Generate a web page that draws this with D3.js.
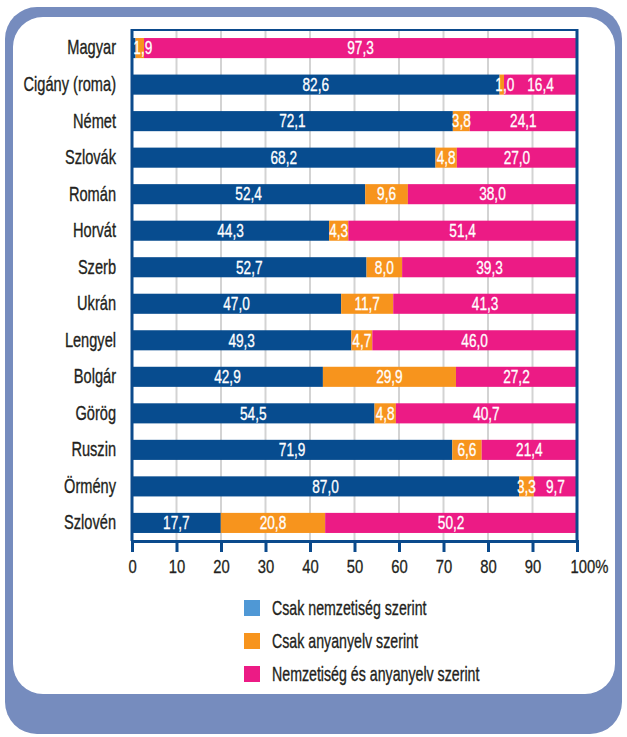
<!DOCTYPE html>
<html>
<head>
<meta charset="utf-8">
<script src="https://cdn.jsdelivr.net/npm/d3@7"></script>
<style>
  html, body { margin: 0; padding: 0; background: #fff; }
  svg { display: block; }
  text { font-family: 'Liberation Sans', Arial, sans-serif; }
</style>
</head>
<body>
<svg id="chart" width="627" height="737"></svg>
<script>
const categories = ["Magyar","Cigány (roma)","Német","Szlovák","Román","Horvát","Szerb","Ukrán","Lengyel","Bolgár","Görög","Ruszin","Örmény","Szlovén"];
const nemzetiseg = [0.8, 82.6, 72.1, 68.2, 52.4, 44.3, 52.7, 47.0, 49.3, 42.9, 54.5, 71.9, 87.0, 17.7];
const anyanyelv  = [1.9, 1.0, 3.8, 4.8, 9.6, 4.3, 8.0, 11.7, 4.7, 29.9, 4.8, 6.6, 3.3, 20.8];
const mindketto  = [97.3, 16.4, 24.1, 27.0, 38.0, 51.4, 39.3, 41.3, 46.0, 27.2, 40.7, 21.4, 9.7, 50.2];
const seriesNames = ["Csak nemzetiség szerint","Csak anyanyelv szerint","Nemzetiség és anyanyelv szerint"];
const tickValues = [0,10,20,30,40,50,60,70,80,90,100];
const tickLabels = ["0","10","20","30","40","50","60","70","80","90","100%"];

const barColors = ["#074C8F","#F7941D","#EC1B85"];
const legendColors = ["#4F98D5","#F7941D","#EC1B85"];
const frameBlue = "#0B4A8C";
const ink = "#231F20";

const svg = d3.select("#chart");

// helper: condense text horizontally around its own x anchor
function condense(sel, sx){
  sel.each(function(){
    const t = d3.select(this);
    const x0 = +t.attr("x") || 0;
    t.attr("x", x0/sx).attr("transform", `scale(${sx},1)`);
  });
}

// background frame
svg.append("rect").attr("x",5).attr("y",7).attr("width",617).attr("height",727)
  .attr("rx",32).attr("fill","#768CBE");
svg.append("rect").attr("x",13).attr("y",17).attr("width",602).attr("height",677)
  .attr("rx",30).attr("fill","#ffffff");

const x = d3.scaleLinear().domain([0,100]).range([132,577]);
const y = d3.scaleBand().domain(categories).range([30,541]).paddingInner(0.45).paddingOuter(0.22);

// gridlines
svg.append("g").selectAll("line").data(tickValues.slice(1,-1)).join("line")
  .attr("x1",d=>x(d)).attr("x2",d=>x(d)).attr("y1",30).attr("y2",541)
  .attr("stroke","#d3d3d3").attr("stroke-width",2);

// stacked (normalized to 100%) data
const rows = categories.map((c,i)=>({cat:c, v:[nemzetiseg[i],anyanyelv[i],mindketto[i]]}));
rows.forEach(r=>{
  const tot = d3.sum(r.v);
  let acc = 0;
  r.segs = r.v.map((v,k)=>{ const s={k, v, x0:acc/tot*100, x1:(acc+v)/tot*100, cat:r.cat}; acc+=v; return s; });
});
const segs = rows.flatMap(r=>r.segs);

svg.append("g").selectAll("rect").data(segs).join("rect")
  .attr("x",d=>x(d.x0)).attr("width",d=>x(d.x1)-x(d.x0))
  .attr("y",d=>y(d.cat)).attr("height",y.bandwidth())
  .attr("fill",d=>barColors[d.k]);

svg.append("g").selectAll("text").data(segs.filter(d=>d.v>=1)).join("text")
  .attr("x",d=>(x(d.x0)+x(d.x1))/2 + (d.v<2.5 ? 3 : 0))
  .attr("y",d=>y(d.cat)+y.bandwidth()/2)
  .attr("dy","0.36em")
  .attr("text-anchor","middle")
  .attr("fill","#fff").attr("stroke","#fff").attr("stroke-width",0.3)
  .attr("font-size",17.5)
  .text(d=>d.v.toFixed(1).replace(".",","))
  .call(condense, 0.78);

// plot frame
svg.append("line").attr("x1",132).attr("x2",577).attr("y1",30).attr("y2",30)
  .attr("stroke",frameBlue).attr("stroke-width",2);
svg.append("line").attr("x1",x(100)).attr("x2",x(100)).attr("y1",29).attr("y2",541)
  .attr("stroke",frameBlue).attr("stroke-width",3);
svg.append("line").attr("x1",x(0)).attr("x2",x(0)).attr("y1",29).attr("y2",541)
  .attr("stroke",frameBlue).attr("stroke-width",3);

// x axis
const xAxis = d3.axisBottom(x).tickValues(tickValues).tickSize(11).tickPadding(8)
  .tickFormat((d,i)=>tickLabels[i]);
const gx = svg.append("g").attr("transform","translate(0,541)").call(xAxis);
gx.select(".domain").attr("stroke",frameBlue).attr("stroke-width",3);
gx.selectAll(".tick line").attr("stroke",frameBlue).attr("stroke-width",3);
gx.selectAll(".tick text").attr("font-size",18.5).attr("fill",ink)
  .attr("stroke",ink).attr("stroke-width",0.3)
  .attr("font-family","'Liberation Sans', Arial, sans-serif");
gx.select(".tick:last-of-type text").attr("x",12);
gx.selectAll(".tick text").call(condense, 0.8);

// category labels
const yAxis = d3.axisLeft(y).tickSize(0).tickPadding(16);
const gy = svg.append("g").attr("transform","translate(132,0)").call(yAxis);
gy.select(".domain").remove();
gy.selectAll(".tick text").attr("font-size",20).attr("fill",ink)
  .attr("stroke",ink).attr("stroke-width",0.35)
  .attr("font-family","'Liberation Sans', Arial, sans-serif")
  .call(condense, 0.73);

// legend
const lg = svg.append("g").selectAll("g").data(seriesNames).join("g")
  .attr("transform",(d,i)=>`translate(244,${600+i*33})`);
lg.append("rect").attr("width",16).attr("height",16).attr("fill",(d,i)=>legendColors[i]);
lg.append("text").attr("x",28).attr("y",8).attr("dy","0.36em")
  .attr("font-size",20).attr("fill",ink)
  .attr("stroke",ink).attr("stroke-width",0.35)
  .text(d=>d)
  .call(condense, 0.71);
</script>
</body>
</html>
